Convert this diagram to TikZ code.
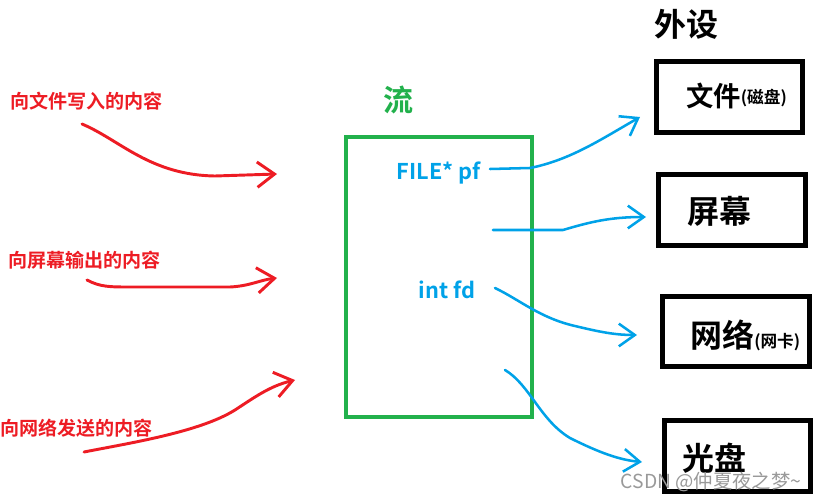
\documentclass[tikz,border=0pt]{standalone}
\usepackage{fontspec}
\setmainfont{Noto Sans CJK SC}[BoldFont={Noto Sans CJK SC Bold}]
\usetikzlibrary{arrows.meta}

\definecolor{paintred}{RGB}{237,28,36}
\definecolor{paintgreen}{RGB}{34,177,76}
\definecolor{paintblue}{RGB}{0,162,232}

\begin{document}
\begin{tikzpicture}[x=0.75pt, y=-0.75pt,
    redtext/.style={text=paintred, font=\bfseries\fontsize{14.3}{14}\selectfont, anchor=west, inner sep=0pt},
    bluetext/.style={text=paintblue, font=\bfseries\fontsize{16.3}{16}\selectfont, inner sep=0pt},
    devbox/.style={draw=black, line width=3.75pt, minimum width=110pt, minimum height=53pt, inner sep=0pt},
    devtext/.style={font=\bfseries\fontsize{24}{24}\selectfont, anchor=west, inner sep=0pt},
    redarrow/.style={draw=paintred, line width=2.2pt, line cap=round, line join=round,
        -{Straight Barb[length=13pt, width=19pt]}},
    bluearrow/.style={draw=paintblue, line width=1.9pt, line cap=round, line join=round,
        -{Straight Barb[length=12pt, width=17pt]}}]
    \useasboundingbox (0,0) rectangle (818,499);

    \node[redtext] (write) at (10,101) {向文件写入的内容};
    \node[redtext] (print) at (8,260) {向屏幕输出的内容};
    \node[redtext] (send) at (0,428) {向网络发送的内容};

    \node[text=paintgreen, font=\bfseries\fontsize{22.5}{22}\selectfont, inner sep=0pt] (liu) at (398,100) {流};
    \node[draw=paintgreen, line width=3pt, minimum width=139.5pt, minimum height=210pt] (stream) at (439,277) {};
    \node[bluetext] (pf) at (438.5,173) {FILE* pf};
    \node[bluetext] (fd) at (447,290) {int fd};

    \node[font=\bfseries\fontsize{24}{24}\selectfont, inner sep=0pt] (waishe) at (686,24) {外设};
    \node[devbox] (disk) at (729.5,97) {};
    \node[devbox] (screen) at (732,210) {};
    \node[devbox] (net) at (736,331.5) {};
    \node[devbox] (cd) at (737.5,456) {};

    \node[devtext, font=\bfseries\fontsize{20.5}{21}\selectfont] (disklabel) at (686,96) {文件{\fontsize{12.5}{12}\selectfont\raisebox{2pt}{(磁盘)}}};
    \node[devtext] (screenlabel) at (687,211) {屏幕};
    \node[devtext] (netlabel) at (690,335) {网络{\fontsize{12.5}{12}\selectfont(网卡)}};
    \node[devtext] (cdlabel) at (682,458) {光盘};

    \coordinate (w0) at (82,124);  \coordinate (w1) at (277,174);
    \coordinate (p0) at (87,280);  \coordinate (p1) at (277,278);
    \coordinate (s0) at (84,452);  \coordinate (s1) at (295,380);
    \draw[redarrow] (w0) .. controls (120,140) and (150,175) .. (215,176) -- (w1);
    \draw[redarrow] (p0) .. controls (100,287) and (110,287) .. (130,287) -- (230,287) .. controls (250,286) and (260,280) .. (p1);
    \draw[redarrow] (s0) .. controls (130,443) and (200,432) .. (235,410) .. controls (255,397) and (270,386) .. (s1);

    \coordinate (a0) at (490,169); \coordinate (a1) at (640,117);
    \coordinate (b0) at (493,230); \coordinate (b1) at (646,217);
    \coordinate (c0) at (495,288); \coordinate (c1) at (637,335);
    \coordinate (d0) at (505,370); \coordinate (d1) at (642,462);
    \draw[bluearrow] (a0) -- (530,168) .. controls (570,160) and (600,140) .. (a1);
    \draw[bluearrow] (b0) -- (563,230) .. controls (590,222) and (610,217) .. (b1);
    \draw[bluearrow] (c0) .. controls (520,300) and (540,318) .. (575,326) .. controls (600,332) and (615,335) .. (c1);
    \draw[bluearrow] (d0) .. controls (530,385) and (540,420) .. (570,438) .. controls (600,453) and (620,460) .. (d1);

    \node[text=black!40, font=\fontsize{14.5}{14}\selectfont, inner sep=0pt] (mark) at (711,482) {CSDN @仲夏夜之梦\textasciitilde};
\end{tikzpicture}
\end{document}
